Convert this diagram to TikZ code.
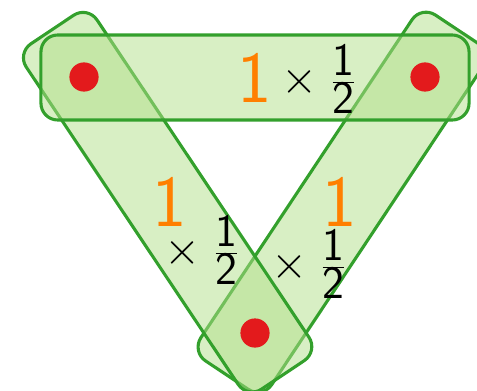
\RequirePackage{fix-cm}
\documentclass[tikz,border=0pt]{standalone}
\usetikzlibrary{calc}

\definecolor{edgefill}{HTML}{B2DF8A}
\definecolor{edgeline}{HTML}{33A02C}
\definecolor{vertexred}{HTML}{E31A1C}
\definecolor{weightorange}{HTML}{FF7F00}

\begin{document}
\begin{tikzpicture}[x=0.025cm, y=0.025cm, line join=round,
    hedge/.style={draw=edgeline, fill=edgefill, fill opacity=0.5,
      line width=2.2pt, rounded corners=0.42cm, inner sep=0pt,
      minimum height=2.125cm},
    vertex/.style={circle, fill=vertexred, minimum size=0.73cm, inner sep=0pt},
    weight/.style={text=weightorange, inner sep=0pt,
      font=\sffamily\fontsize{52}{60}\selectfont},
    factor/.style={inner sep=0pt, font=\sffamily\fontsize{33}{40}\selectfont}]

  \useasboundingbox (0,0) rectangle (477,390);

  % vertices (y counted up from the bottom edge)
  \coordinate (A) at ( 84, 313);
  \coordinate (B) at (425, 313);
  \coordinate (C) at (255,  57);

  % hyperedges: right, left, then top on top
  \node[hedge, minimum width=10.38cm, rotate=56.41]  (eBC) at ($(B)!0.489!(C)$) {};
  \node[hedge, minimum width=10.38cm, rotate=-56.26] (eAC) at ($(A)!0.489!(C)$) {};
  \node[hedge, minimum width=10.70cm]                (eAB) at (255, 312.5)     {};

  % vertex dots
  \node[vertex] (vA) at (A) {};
  \node[vertex] (vB) at (B) {};
  \node[vertex] (vC) at (C) {};

  % edge weights
  \node[weight] (wAB) at (255, 312.5) {1};
  \node[weight] (wAC) at (170, 188)   {1};
  \node[weight] (wBC) at (340, 188)   {1};

  \node[factor] (fAB) at (319, 311) {$\times\;\frac{\textsf{1}}{\textsf{2}}$};
  \node[factor] (fAC) at (202, 140) {$\times\;\frac{\textsf{1}}{\textsf{2}}$};
  \node[factor] (fBC) at (309, 126) {$\times\;\frac{\textsf{1}}{\textsf{2}}$};

\end{tikzpicture}
\end{document}
